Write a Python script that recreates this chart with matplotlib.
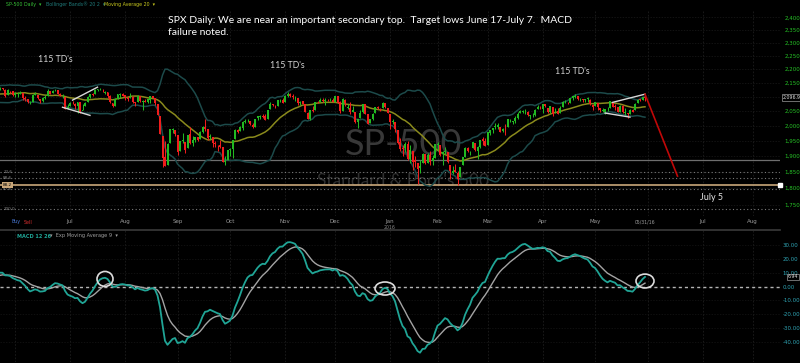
import numpy as np
import pandas as pd
import matplotlib
matplotlib.use("Agg")
import matplotlib.pyplot as plt
from matplotlib.patches import Ellipse
from pandas.tseries.offsets import CustomBusinessDay

# NYSE holidays for the trading-day axis
holidays = ["2015-04-03", "2015-05-25", "2015-07-03", "2015-09-07", "2015-11-26",
            "2015-12-25", "2016-01-01", "2016-01-18", "2016-02-15", "2016-03-25",
            "2016-05-30", "2016-07-04"]
first_day = "2015-04-01"

# daily S&P 500 candles, Apr 2015 .. May 31 2016 (one row per month)
opens = [
    2068, 2060, 2064, 2081, 2076, 2082, 2091, 2102, 2092, 2096, 2105, 2102, 2084, 2102, 2098, 2107, 2113, 2119, 2108, 2112, 2106,
    2087, 2110, 2113, 2090, 2080, 2092, 2115, 2102, 2100, 2101, 2122, 2122, 2130, 2128, 2126, 2130, 2125, 2105, 2122, 2120,
    2105, 2110, 2110, 2112, 2095, 2092, 2080, 2082, 2106, 2107, 2092, 2084, 2097, 2101, 2121, 2112, 2123, 2123, 2109, 2102, 2098, 2061,
    2067, 2078, 2073, 2069, 2080, 2050, 2068, 2080, 2099, 2109, 2110, 2124, 2127, 2120, 2114, 2116, 2103, 2079, 2068, 2093, 2107, 2111,
    2105, 2097, 2096, 2100, 2082, 2081, 2102, 2082, 2086, 2083, 2089, 2101, 2094, 2076, 2034, 1965, 1898, 1872, 1943, 1986, 1987,
    1970, 1916, 1950, 1947, 1927, 1971, 1941, 1951, 1961, 1955, 1979, 1995, 1989, 1961, 1962, 1943, 1933, 1935, 1929, 1882, 1888,
    1919, 1922, 1954, 1986, 1982, 1993, 2013, 2015, 2015, 2003, 1996, 2025, 2031, 2033, 2033, 2022, 2058, 2075, 2069, 2066, 2088, 2090,
    2081, 2102, 2110, 2102, 2098, 2097, 2077, 2084, 2073, 2044, 2022, 2054, 2054, 2083, 2083, 2089, 2084, 2089, 2089, 2090,
    2082, 2101, 2080, 2051, 2090, 2061, 2061, 2048, 2047, 2013, 2025, 2047, 2074, 2040, 2010, 2024, 2043, 2064, 2057, 2060, 2077, 2061,
    2038, 2014, 2011, 1985, 1945, 1927, 1927, 1940, 1891, 1916, 1886, 1877, 1862, 1878, 1906, 1878, 1902, 1885, 1895,
    1937, 1935, 1907, 1912, 1913, 1873, 1848, 1857, 1847, 1833, 1871, 1898, 1927, 1917, 1925, 1942, 1918, 1929, 1955, 1948,
    1937, 1976, 1986, 1994, 1996, 1996, 1981, 1990, 1995, 2019, 2012, 2015, 2027, 2042, 2048, 2049, 2048, 2032, 2037, 2035, 2057, 2061,
    2056, 2073, 2062, 2045, 2063, 2045, 2050, 2043, 2065, 2082, 2083, 2079, 2096, 2100, 2102, 2092, 2091, 2088, 2092, 2090, 2071,
    2067, 2078, 2060, 2051, 2047, 2057, 2062, 2083, 2067, 2063, 2047, 2066, 2044, 2044, 2041, 2052, 2052, 2079, 2091, 2090, 2100,
]
highs = [
    2068, 2072, 2086, 2090, 2088, 2093, 2103, 2107, 2097, 2111, 2111, 2102, 2105, 2106, 2110, 2121, 2120, 2126, 2118, 2113, 2108,
    2109, 2120, 2115, 2099, 2092, 2118, 2117, 2105, 2111, 2121, 2124, 2131, 2134, 2133, 2133, 2130, 2126, 2126, 2122, 2121,
    2117, 2117, 2121, 2112, 2101, 2093, 2086, 2108, 2116, 2107, 2092, 2098, 2106, 2126, 2121, 2125, 2128, 2125, 2112, 2108, 2098, 2075,
    2083, 2085, 2078, 2083, 2080, 2074, 2081, 2101, 2111, 2114, 2126, 2127, 2132, 2128, 2121, 2116, 2106, 2079, 2095, 2110, 2114, 2114,
    2105, 2103, 2112, 2104, 2082, 2105, 2102, 2089, 2093, 2092, 2103, 2104, 2096, 2076, 2034, 1965, 1949, 1943, 1989, 1993, 1987,
    1970, 1949, 1975, 1947, 1970, 1997, 1965, 1961, 1961, 1983, 1998, 2021, 1989, 1971, 1962, 1949, 1937, 1953, 1929, 1899, 1921,
    1927, 1951, 1990, 1989, 1999, 2017, 2021, 2022, 2016, 2010, 2024, 2034, 2035, 2039, 2038, 2055, 2080, 2076, 2071, 2090, 2092, 2095,
    2106, 2116, 2114, 2108, 2101, 2097, 2084, 2086, 2073, 2045, 2054, 2067, 2083, 2086, 2097, 2096, 2094, 2093, 2094, 2094,
    2104, 2101, 2085, 2094, 2093, 2073, 2081, 2067, 2047, 2022, 2053, 2076, 2076, 2040, 2022, 2042, 2064, 2067, 2061, 2082, 2077, 2062,
    2038, 2021, 2011, 1985, 1960, 1935, 1947, 1950, 1935, 1916, 1901, 1877, 1889, 1909, 1906, 1909, 1917, 1902, 1940,
    1947, 1935, 1916, 1928, 1913, 1873, 1868, 1876, 1854, 1865, 1896, 1930, 1930, 1918, 1946, 1942, 1932, 1952, 1963, 1958,
    1978, 1986, 1993, 2010, 2008, 1996, 1992, 2005, 2022, 2024, 2016, 2032, 2046, 2053, 2053, 2056, 2049, 2036, 2043, 2056, 2072, 2068,
    2075, 2074, 2062, 2068, 2063, 2060, 2062, 2066, 2084, 2088, 2083, 2095, 2104, 2111, 2104, 2095, 2092, 2093, 2099, 2092, 2075,
    2083, 2078, 2060, 2060, 2058, 2065, 2084, 2083, 2073, 2064, 2071, 2070, 2061, 2044, 2058, 2056, 2079, 2093, 2093, 2099, 2104,
]
lows = [
    2057, 2057, 2057, 2076, 2075, 2080, 2088, 2092, 2083, 2095, 2100, 2073, 2084, 2096, 2094, 2104, 2112, 2107, 2097, 2094, 2078,
    2086, 2108, 2088, 2075, 2078, 2092, 2104, 2086, 2096, 2101, 2117, 2120, 2125, 2122, 2123, 2125, 2099, 2105, 2113, 2104,
    2099, 2099, 2109, 2088, 2085, 2079, 2073, 2082, 2106, 2092, 2079, 2083, 2093, 2101, 2108, 2112, 2119, 2108, 2101, 2097, 2057, 2057,
    2066, 2073, 2058, 2044, 2044, 2052, 2067, 2080, 2097, 2103, 2110, 2119, 2123, 2116, 2110, 2094, 2077, 2063, 2068, 2092, 2094, 2102,
    2088, 2085, 2095, 2077, 2067, 2081, 2080, 2052, 2080, 2079, 2079, 2095, 2070, 2036, 1971, 1867, 1868, 1872, 1943, 1975, 1965,
    1904, 1916, 1944, 1911, 1927, 1939, 1934, 1945, 1948, 1954, 1977, 1981, 1953, 1957, 1930, 1928, 1916, 1927, 1880, 1872, 1888,
    1900, 1893, 1954, 1976, 1982, 1987, 2009, 2012, 2002, 1991, 1996, 2020, 2023, 2026, 2018, 2022, 2058, 2069, 2059, 2066, 2081, 2079,
    2081, 2099, 2098, 2093, 2085, 2071, 2070, 2074, 2045, 2022, 2020, 2046, 2054, 2077, 2083, 2080, 2071, 2086, 2086, 2080,
    2082, 2077, 2043, 2051, 2067, 2056, 2041, 2048, 2009, 1993, 2025, 2042, 2041, 2005, 2008, 2020, 2043, 2058, 2050, 2060, 2061, 2044,
    1990, 2005, 1979, 1938, 1918, 1901, 1914, 1886, 1878, 1857, 1864, 1812, 1848, 1878, 1874, 1878, 1872, 1873, 1895,
    1920, 1900, 1872, 1907, 1878, 1829, 1845, 1850, 1810, 1833, 1871, 1898, 1912, 1902, 1925, 1918, 1891, 1927, 1937, 1932,
    1937, 1968, 1975, 1990, 1990, 1978, 1980, 1970, 1995, 2013, 2005, 2010, 2022, 2042, 2042, 2041, 2034, 2023, 2031, 2033, 2057, 2058,
    2044, 2063, 2043, 2042, 2033, 2043, 2041, 2042, 2065, 2077, 2076, 2079, 2088, 2094, 2089, 2085, 2080, 2082, 2083, 2072, 2054,
    2067, 2055, 2045, 2048, 2039, 2051, 2062, 2064, 2054, 2045, 2047, 2044, 2035, 2026, 2041, 2047, 2052, 2079, 2085, 2090, 2086,
]
closes = [
    2060, 2067, 2081, 2076, 2082, 2091, 2102, 2092, 2096, 2107, 2105, 2081, 2100, 2097, 2108, 2113, 2118, 2109, 2115, 2107, 2086,
    2108, 2114, 2089, 2081, 2088, 2116, 2105, 2099, 2098, 2121, 2123, 2130, 2128, 2126, 2131, 2126, 2104, 2123, 2120, 2107,
    2112, 2110, 2114, 2096, 2092, 2080, 2080, 2106, 2109, 2094, 2085, 2097, 2100, 2121, 2110, 2122, 2124, 2108, 2102, 2102, 2058, 2063,
    2077, 2077, 2068, 2081, 2047, 2052, 2077, 2100, 2109, 2107, 2124, 2127, 2128, 2119, 2115, 2102, 2080, 2068, 2093, 2108, 2109, 2104,
    2098, 2093, 2100, 2083, 2078, 2104, 2084, 2086, 2083, 2092, 2102, 2097, 2079, 2036, 1971, 1893, 1868, 1940, 1988, 1989, 1972,
    1914, 1949, 1951, 1921, 1970, 1942, 1952, 1961, 1953, 1979, 1996, 1990, 1958, 1967, 1943, 1939, 1932, 1931, 1882, 1884, 1920,
    1923, 1951, 1987, 1980, 1996, 2014, 2015, 2017, 2004, 1994, 2024, 2033, 2033, 2030, 2019, 2052, 2075, 2071, 2066, 2090, 2089, 2079,
    2104, 2109, 2102, 2099, 2099, 2078, 2081, 2075, 2045, 2023, 2053, 2051, 2083, 2081, 2089, 2086, 2089, 2088, 2090, 2080,
    2102, 2079, 2050, 2091, 2077, 2063, 2047, 2052, 2012, 2021, 2043, 2073, 2041, 2006, 2021, 2038, 2064, 2060, 2056, 2078, 2063, 2044,
    2012, 2016, 1990, 1943, 1922, 1923, 1938, 1890, 1921, 1880, 1881, 1859, 1868, 1907, 1877, 1903, 1882, 1893, 1940,
    1940, 1903, 1913, 1915, 1880, 1853, 1852, 1851, 1829, 1865, 1896, 1927, 1917, 1917, 1945, 1921, 1929, 1952, 1948, 1932,
    1978, 1986, 1993, 1999, 2001, 1980, 1989, 1989, 2022, 2019, 2015, 2027, 2040, 2049, 2051, 2049, 2036, 2035, 2037, 2055, 2063, 2060,
    2073, 2066, 2045, 2066, 2041, 2048, 2041, 2062, 2082, 2082, 2081, 2094, 2101, 2102, 2091, 2092, 2088, 2091, 2095, 2075, 2065,
    2081, 2063, 2052, 2051, 2057, 2058, 2084, 2064, 2064, 2047, 2066, 2047, 2048, 2040, 2052, 2048, 2076, 2090, 2090, 2099, 2097,
]

price_ticks = [1750, 1800, 1850, 1900, 1950, 2000, 2050, 2100, 2150, 2200, 2250, 2300, 2350, 2400]
macd_ticks = [-40, -30, -20, -10, 0, 10, 20, 30]
hidden_months = ["2015-06", "2016-06"]

# horizontal levels drawn across the price panel
support_level = 1888
dotted_levels = [1849, 1830, 1797, 1738]
dotted_labels = ["12.6", "88.6", "87.6", "100.0"]
tan_level = 1810
tan_label = "88.2"

# hand-drawn annotations: (start date, start price, end date, end price)
wedge_lines = [
    ("2015-07-02", 2088, "2015-07-17", 2134),
    ("2015-06-26", 2063, "2015-07-14", 2035),
    ("2016-05-11", 2080, "2016-05-31", 2109),
    ("2016-05-06", 2043, "2016-05-20", 2029),
]
target_line = ("2016-05-31", 2109, "2016-06-17", 1837)
td_notes = [("2015-06-23", 2235), ("2015-11-03", 2212), ("2016-04-19", 2190)]
july5_note = ("2016-06-30", 1773)
# circles on the MACD panel: (date, value, width in days, height)
macd_circles = [("2015-07-22", 5.5, 6.4, 10.8), ("2015-12-30", -1.4, 8.0, 9.4),
                ("2016-05-31", 4.0, 7.2, 10.0)]

GREEN = "#22b922"
RED = "#f01c1c"

calendar = pd.date_range(first_day, "2016-08-31", freq=CustomBusinessDay(holidays=holidays))
n = len(closes)
if not (len(opens) == len(highs) == len(lows) == n):
    raise ValueError("ohlc length mismatch %d %d %d %d" % (len(opens), len(highs), len(lows), n))
x = np.arange(n)


def day(s):
    return calendar.get_loc(pd.Timestamp(s))


close = pd.Series(closes, dtype=float)
ma20 = close.rolling(20).mean()
sd20 = close.rolling(20).std(ddof=0)
bb_up = ma20 + 2 * sd20
bb_lo = ma20 - 2 * sd20
macd = close.ewm(span=12, adjust=False).mean() - close.ewm(span=26, adjust=False).mean()
signal = macd.ewm(span=9, adjust=False).mean()

jul1 = day("2015-07-01")
x_left = jul1 - 70 / 2.5
x_right = jul1 + 710 / 2.5

fig = plt.figure(figsize=(8, 3.63), dpi=100, facecolor="black")
ax = fig.add_axes([0, 147 / 363, 780 / 800, 206 / 363], facecolor="black")
axm = fig.add_axes([0, 1 / 363, 780 / 800, 132 / 363], facecolor="black")

# ---- price panel
ax.set_yscale("log")
ax.set_ylim(1717.6, 2430.4)
ax.set_xlim(x_left, x_right)
for a in (ax, axm):
    for s in a.spines.values():
        s.set_visible(False)
axm.spines["top"].set_visible(True)
axm.spines["top"].set_color("#3a3a3a")
axm.spines["top"].set_linewidth(1.2)

month_starts = pd.Series(np.arange(len(calendar)), index=calendar).groupby(calendar.to_period("M")).first()
grid_x = [p for p in month_starts.values if x_left < p < x_right]
lab_pos, lab_txt = [], []
for per, p in month_starts.items():
    if x_left < p < x_right and str(per) not in hidden_months:
        lab_pos.append(p)
        lab_txt.append(per.strftime("%b"))

for gx in grid_x:
    ax.axvline(gx, color="#1d1d1d", lw=0.6, ls=(0, (2, 2)), zorder=0)
    axm.axvline(gx, color="#1d1d1d", lw=0.6, ls=(0, (2, 2)), zorder=0)
for gy in price_ticks:
    ax.axhline(gy, color="#1a1a1a", lw=0.5, ls=(0, (2, 2)), zorder=0)
for gy in macd_ticks:
    axm.axhline(gy, color="#161616", lw=0.5, ls=(0, (2, 2)), zorder=0)

ax.text(0.517, 0.345, "SP-500", transform=ax.transAxes, ha="center", va="center",
        color="#383838", fontsize=26, family="Lato", zorder=0.5)
ax.text(0.517, 0.17, "Standard & Poor's 500", transform=ax.transAxes, ha="center", va="center",
        color="#303030", fontsize=12.5, family="Lato", zorder=0.5)

ax.axhline(support_level, color="#6e6e6e", lw=0.9, zorder=1)
for lv, lb in zip(dotted_levels, dotted_labels):
    ax.axhline(lv, color="#7a7a7a", lw=0.8, ls=(0, (1, 2.2)), zorder=1)
    ax.text(0.004, lv, lb, transform=ax.get_yaxis_transform(), color="#8a8a8a",
            fontsize=3, va="center", ha="left")
ax.axhline(tan_level, color="#c9a77a", lw=1.2, zorder=1)
ax.text(0.004, tan_level, tan_label, transform=ax.get_yaxis_transform(), color="black",
        fontsize=3, va="center", ha="left", bbox=dict(boxstyle="square,pad=0.15", fc="#c9a77a", lw=0))
ax.plot([1.0], [tan_level], marker="s", ms=2.2, color="white", transform=ax.get_yaxis_transform(), clip_on=False)

ax.plot(x, bb_up, color="#1c4a4a", lw=1.1, zorder=2)
ax.plot(x, bb_lo, color="#1c4a4a", lw=1.1, zorder=2)
ax.plot(x, ma20, color="#8a8a1c", lw=1.1, zorder=2)

o = np.array(opens, dtype=float)
c = np.array(closes, dtype=float)
cols = np.where(c >= o, GREEN, RED)
ax.vlines(x, lows, highs, colors=cols, lw=0.75, zorder=3)
ax.bar(x, np.maximum(np.abs(c - o), 0.8), bottom=np.minimum(o, c), width=0.8,
       color=cols, linewidth=0, zorder=3)

for d1, p1, d2, p2 in wedge_lines:
    ax.plot([day(d1), day(d2)], [p1, p2], color="#d8d8d8", lw=1.0, zorder=4)
d1, p1, d2, p2 = target_line
ax.plot([day(d1), day(d2)], [p1, p2], color="#c00808", lw=1.2, zorder=4)

for d, p in td_notes:
    ax.text(day(d), p, "115 TD's", color="#d4d4d4", fontsize=6.3, family="Lato",
            ha="center", va="center")
ax.text(day(july5_note[0]), july5_note[1], "July 5", color="#e6e6e6", fontsize=6.5,
        family="Lato", ha="left", va="center")

ax.yaxis.tick_right()
ax.set_yticks(price_ticks)
ax.set_yticklabels(["" if v == 2100 else f"{v:,}" for v in price_ticks])
ax.yaxis.set_minor_locator(matplotlib.ticker.NullLocator())
ax.tick_params(axis="y", length=0, pad=3, labelsize=4.0, labelcolor="#26c426")
ax.set_xticks(lab_pos)
ax.set_xticklabels(lab_txt)
ax.tick_params(axis="x", length=0, pad=2.5, labelsize=4, labelcolor="#9a9a9a")
ax.text(day("2016-01-04"), -0.058, "2016", transform=ax.get_xaxis_transform(),
        color="#8a8a8a", fontsize=3.3, ha="center", va="center")
ax.text(n - 1, -0.03, "05/31/16", transform=ax.get_xaxis_transform(),
        color="#9a9a9a", fontsize=3.3, ha="center", va="center")
ax.text(1.004, closes[-1], "2,096.95", transform=ax.get_yaxis_transform(), color="#e0e0e0",
        fontsize=3.4, va="center", ha="left", clip_on=False,
        bbox=dict(boxstyle="square,pad=0.2", fc="black", ec="#9a9a9a", lw=0.5))

# ---- MACD panel
axm.set_xlim(x_left, x_right)
axm.set_ylim(-54.4, 40.8)
axm.axhline(0, color="#b4b4b4", lw=1.0, ls=(0, (2.2, 2.2)), zorder=1)
axm.plot(x, signal, color="#a4a4a4", lw=1.0, zorder=2)
axm.plot(x, macd, color="#20a596", lw=1.3, zorder=3)
for d, v, w, hgt in macd_circles:
    axm.add_patch(Ellipse((day(d), v), w, hgt, fill=False, ec="#dcdcdc", lw=1.2, zorder=4))
axm.yaxis.tick_right()
axm.set_yticks(macd_ticks)
axm.set_yticklabels([f"{v:.2f}" for v in macd_ticks])
axm.tick_params(axis="y", length=0, pad=2, labelsize=3.9, labelcolor="#2fa4b4")
axm.set_xticks([])
axm.text(1.01, macd.iloc[-1], f"{macd.iloc[-1]:.2f}", transform=axm.get_yaxis_transform(),
         color="#e0e0e0", fontsize=3.4, va="center", ha="left", clip_on=False,
         bbox=dict(boxstyle="square,pad=0.2", fc="black", ec="#9a9a9a", lw=0.5))

# ---- headers / annotations in figure coordinates
fig.text(168 / 800, 1 - 16 / 363, "SPX Daily: We are near an important secondary top.  "
         "Target lows June 17-July 7.  MACD\nfailure noted.", color="white", fontsize=7.5,
         family="Lato", va="top", ha="left", linespacing=1.4)
fig.text(6 / 800, 1 - 4.5 / 363, "SP-500 Daily  \u25be", color="#36c036", fontsize=3.4, va="center")
fig.text(46 / 800, 1 - 4.5 / 363, "Bollinger Bands\u00ae 20 2  \u25be", color="#1f7a7a", fontsize=3.4, va="center")
fig.text(104 / 800, 1 - 4.5 / 363, "Moving Average 20  \u25be", color="#c8c81e", fontsize=3.4, va="center")
fig.text(17 / 800, 1 - 236 / 363, "MACD 12 26", color="#20a596", fontsize=3.6, weight="bold", va="center")
fig.text(50 / 800, 1 - 236 / 363, "\u25be  Exp Moving Average 9  \u25be", color="#a0a0a0", fontsize=3.6, va="center")
fig.text(11 / 800, 1 - 222 / 363, "Buy", color="#4a7ad8", fontsize=3.4, va="center")
fig.text(24 / 800, 1 - 222 / 363, "Sell", color="#e03030", fontsize=3.4, va="center")

fig.savefig("out.png", dpi=100, facecolor="black")
